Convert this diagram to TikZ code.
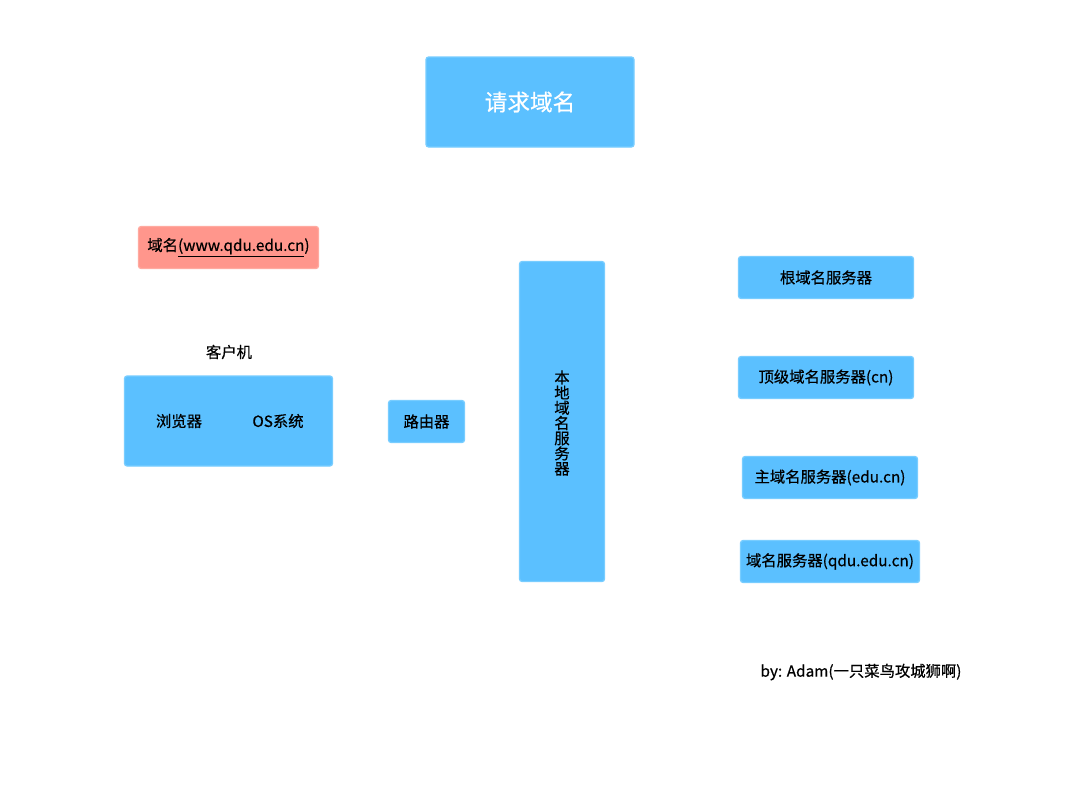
\documentclass[tikz,border=0pt]{standalone}
\usepackage{fontspec}
\setmainfont{Noto Sans CJK SC}[FakeBold=0.6,UprightFont=*,BoldFont=*]
\definecolor{boxblue}{RGB}{91,192,255}
\definecolor{edgeblue}{RGB}{120,205,255}
\definecolor{boxred}{RGB}{255,150,140}
\definecolor{edgered}{RGB}{255,170,160}
\begin{document}
\begin{tikzpicture}[x=0.75pt,y=-0.75pt,
  bbox/.style={fill=boxblue, draw=edgeblue, line width=1pt, rounded corners=2pt, inner sep=0pt, font=\fontsize{11.5}{13}\selectfont\bfseries},
  rbox/.style={fill=boxred, draw=edgered, line width=1pt, rounded corners=2pt, inner sep=0pt, font=\fontsize{11.5}{13}\selectfont\bfseries},
  lbl/.style={inner sep=0pt, font=\fontsize{11.5}{13}\selectfont\bfseries}]
\useasboundingbox (0,0) rectangle (1080,810);
\fill[white] (0,0) rectangle (1080,810);
% title
\node[bbox, minimum width=208*0.75pt, minimum height=90*0.75pt, text=white, font=\fontsize{17}{20}\selectfont] (title) at (530,102) {请求域名};
% domain
\node[rbox, minimum width=180*0.75pt, minimum height=42*0.75pt] (domain) at (228.5,247.5) {域名\underline{(www.qdu.edu.cn})};
% client
\node[lbl] (clientlbl) at (229,352) {客户机};
\node[bbox, minimum width=208*0.75pt, minimum height=90*0.75pt] (client) at (228.5,421) {};
\node[lbl] (browser) at (179,421) {浏览器};
\node[lbl] (os) at (278,421) {OS系统};
% router
\node[bbox, minimum width=76*0.75pt, minimum height=42*0.75pt] (router) at (426.5,421.5) {路由器};
% local dns
\node[bbox, minimum width=85*0.75pt, minimum height=320*0.75pt] (local) at (562,421.5) {};
\node[lbl, align=center, font=\fontsize{11.5}{11.4}\selectfont\bfseries] (localtxt) at (562,423) {本\\地\\域\\名\\服\\务\\器};
% right servers
\node[bbox, minimum width=175*0.75pt, minimum height=42*0.75pt] (root) at (826,277.5) {根域名服务器};
\node[bbox, minimum width=175*0.75pt, minimum height=42*0.75pt] (tld) at (826,377.5) {顶级域名服务器(cn)};
\node[bbox, minimum width=175*0.75pt, minimum height=42*0.75pt] (main) at (830,477.5) {主域名服务器(edu.cn)};
\node[bbox, minimum width=179*0.75pt, minimum height=42*0.75pt] (qdu) at (830,561.5) {域名服务器(qdu.edu.cn)};
% signature
\node[lbl] (sig) at (861,672) {by: Adam(一只菜鸟攻城狮啊)};
\end{tikzpicture}
\end{document}
